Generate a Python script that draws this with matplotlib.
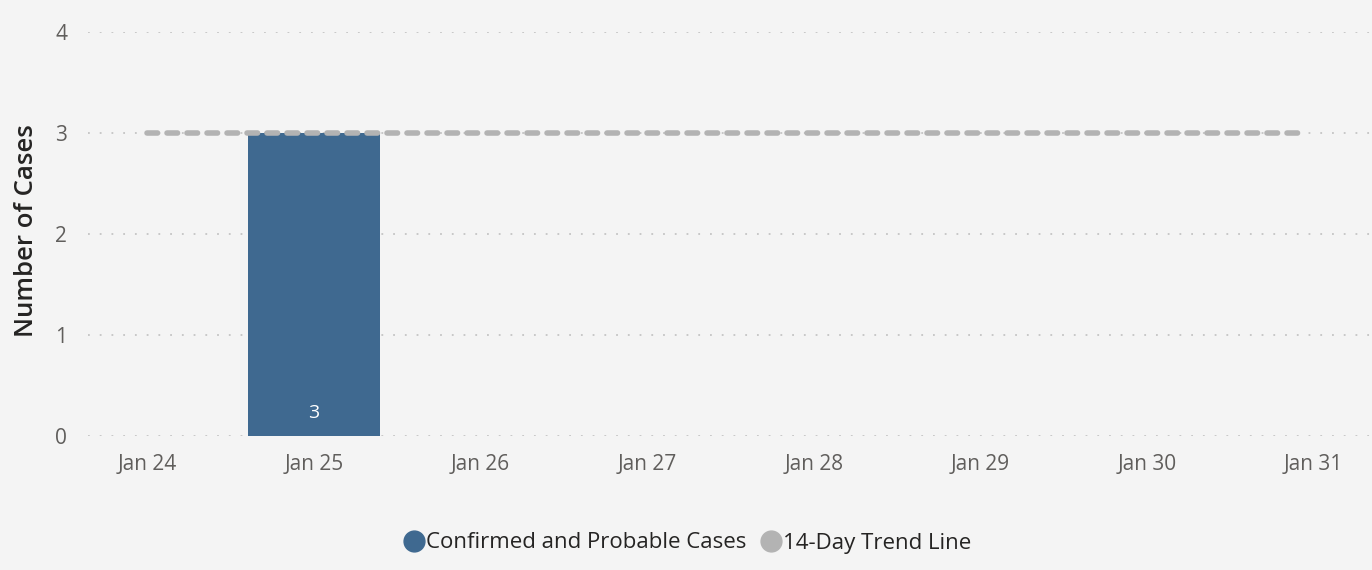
import matplotlib
matplotlib.use("Agg")
import matplotlib.pyplot as plt
from matplotlib.lines import Line2D

categories = ["Jan 24", "Jan 25", "Jan 26", "Jan 27", "Jan 28", "Jan 29", "Jan 30", "Jan 31"]
cases = [0, 3, 0, 0, 0, 0, 0, 0]
trend = [3, 3, 3, 3, 3, 3, 3, 3]
yticks = [0, 1, 2, 3, 4]

bar_color = "#3f6990"
trend_color = "#b3b3b3"
bg = "#f4f4f4"

plt.rcParams["font.family"] = ["Open Sans", "DejaVu Sans"]

fig = plt.figure(figsize=(13.72, 5.70), dpi=100, facecolor=bg)
ax = fig.add_axes([0.0641, 0.235, 0.9359, 0.709], facecolor=bg)

x = list(range(len(categories)))
ax.set_xlim(-0.355, 7.35)
ax.set_ylim(0, 4)

for yv in yticks:
    ax.axhline(yv, color="#c4c4c4", linestyle=(0, (1, 5.5)), linewidth=1.3, zorder=0)

bars = ax.bar(x, cases, width=0.79, color=bar_color, zorder=2)
for xi, v in zip(x, cases):
    if v > 0:
        ax.text(xi, 0.23, str(v), color="white", ha="center", va="center", fontsize=14, zorder=4)

ax.plot([x[0], x[-1] - 0.08], [trend[0], trend[-1]], color=trend_color, linewidth=4.0,
        linestyle=(0, (1.9, 1.7)), dash_capstyle="round", solid_capstyle="round", zorder=3)

ax.set_xticks(x)
ax.set_xticklabels(categories, fontsize=15, color="#605e5c")
ax.set_yticks(yticks)
ax.set_yticklabels([str(t) for t in yticks], fontsize=15, color="#605e5c")
ax.tick_params(length=0)
ax.tick_params(axis="x", pad=13)
ax.tick_params(axis="y", pad=15)
for s in ax.spines.values():
    s.set_visible(False)

fig.text(0.019, 1 - 231/570, "Number of Cases", rotation=90, ha="center", va="center",
         fontsize=18.5, color="#252423", fontweight="semibold")

handles = [Line2D([], [], marker="o", linestyle="none", markersize=15, color=bar_color),
           Line2D([], [], marker="o", linestyle="none", markersize=15, color=trend_color)]
fig.legend(handles, ["Confirmed and Probable Cases", "14-Day Trend Line"], loc="center",
           bbox_to_anchor=(0.5, 1 - 543/570), ncol=2, frameon=False, fontsize=16,
           handletextpad=-0.05, columnspacing=0.5, labelcolor="#252423", handlelength=1.2)

fig.savefig("out.png", dpi=100, facecolor=bg)
